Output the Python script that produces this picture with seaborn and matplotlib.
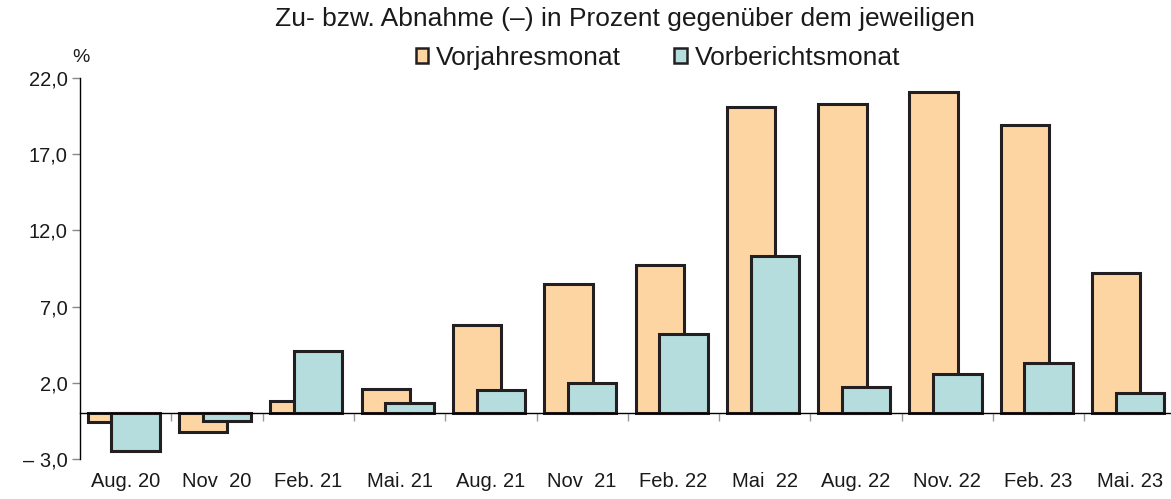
import matplotlib
matplotlib.use("Agg")
import matplotlib.pyplot as plt
import seaborn as sns
import pandas as pd
from matplotlib.patches import Patch

categories = ["Aug. 20", "Nov  20", "Feb. 21", "Mai. 21", "Aug. 21", "Nov  21",
              "Feb. 22", "Mai  22", "Aug. 22", "Nov. 22", "Feb. 23", "Mai. 23"]
vorjahr = [-0.6, -1.2, 0.8, 1.6, 5.8, 8.5, 9.7, 20.1, 20.3, 21.1, 18.9, 9.2]
vorbericht = [-2.5, -0.5, 4.1, 0.7, 1.5, 2.0, 5.2, 10.3, 1.7, 2.6, 3.3, 1.3]
yticks = [-3, 2, 7, 12, 17, 22]
ytick_labels = ["\u2013 3,0", "2,0", "7,0", "12,0", "17,0", "22,0"]
series_names = ["Vorjahresmonat", "Vorberichtsmonat"]
title = "Zu- bzw. Abnahme (\u2013) in Prozent gegenüber dem jeweiligen"

sns.set_theme(style="white")
plt.rcParams["font.family"] = ["Liberation Sans", "DejaVu Sans"]

c_orange = "#FCD5A3"
c_teal = "#B5DDDD"
edge = "#231F20"

fig = plt.figure(figsize=(11.71, 4.99), dpi=100)
ax = fig.add_axes([80 / 1171, 1 - 459 / 499, 1 - 80 / 1171, (459 - 78) / 499])

df = pd.DataFrame({"cat": categories, "vj": vorjahr, "vb": vorbericht})
w = 0.53
off = 0.13
sns.barplot(data=df, x="cat", y="vj", color=c_orange, width=w, edgecolor=edge,
            linewidth=2.2, saturation=1, ax=ax, zorder=2)
n1 = len(ax.patches)
sns.barplot(data=df, x="cat", y="vb", color=c_teal, width=w, edgecolor=edge,
            linewidth=2.2, saturation=1, ax=ax, zorder=3)
for i, p in enumerate(ax.patches):
    p.set_x(p.get_x() + (-off if i < n1 else off) - 0.02)

ax.set_ylim(-3, 22)
ax.set_xlim(-0.5, -0.5 + 1091 / 91.3)
ax.set_yticks(yticks)
ax.set_yticklabels(ytick_labels, fontsize=14.5, color="#1a1a1a")
ax.tick_params(axis="y", direction="out", length=6, width=1, color="#888888", left=True, pad=3)

ax.spines["top"].set_visible(False)
ax.spines["right"].set_visible(False)
ax.spines["left"].set_color("black")
ax.spines["left"].set_linewidth(1)
ax.spines["bottom"].set_position(("data", 0))
ax.spines["bottom"].set_color("black")
ax.spines["bottom"].set_linewidth(1)
ax.spines["bottom"].set_zorder(4)

n = len(categories)
ax.set_xticks([i + 0.5 for i in range(n - 1)])
ax.set_xticklabels([])
ax.tick_params(axis="x", which="major", direction="out", length=6, width=1,
               color="#999999", bottom=True)
ax.set_xticks(list(range(n)), minor=True)
ax.set_xticklabels(categories, minor=True, fontsize=14.5, color="#1a1a1a")
ax.tick_params(axis="x", which="minor", length=0, pad=42)
ax.set_xlabel("")
ax.set_ylabel("")

fig.text(625 / 1171, 1 - 19 / 499, title, ha="center", va="center", fontsize=19, color="#1a1a1a")
fig.text(81 / 1171, 1 - 57 / 499, "%", ha="center", va="center", fontsize=14, color="#1a1a1a")

handles = [Patch(facecolor=c_orange, edgecolor=edge, linewidth=1.8),
           Patch(facecolor=c_teal, edgecolor=edge, linewidth=1.8)]
fig.legend(handles, series_names, loc="center", bbox_to_anchor=(658 / 1171, 1 - 58 / 499),
           ncol=2, frameon=False, fontsize=19, handlelength=0.48, handleheight=0.48,
           handletextpad=0.3, columnspacing=2.0, borderpad=0, labelcolor="#1a1a1a")

fig.savefig("out.png", dpi=100)
